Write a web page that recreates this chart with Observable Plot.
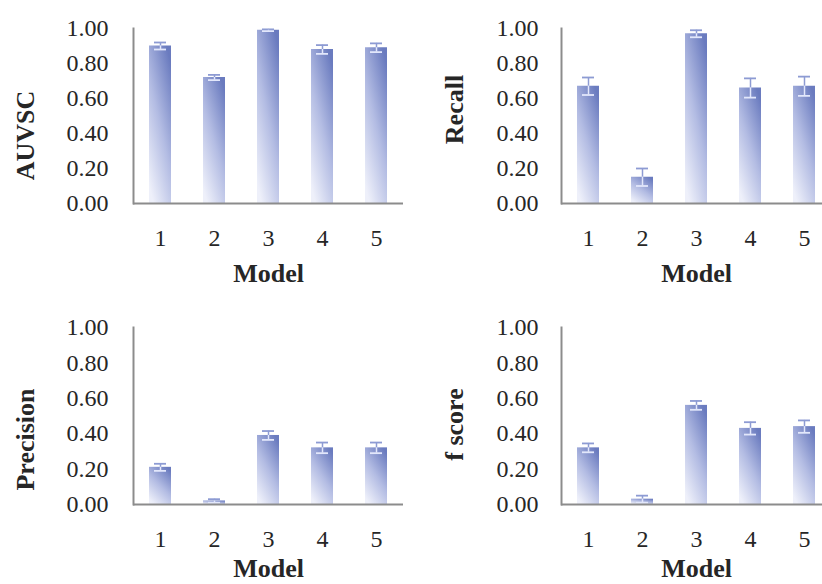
<!DOCTYPE html>
<html><head><meta charset="utf-8">
<script src="https://cdn.jsdelivr.net/npm/d3@7"></script>
<script src="https://cdn.jsdelivr.net/npm/@observablehq/plot@0.6"></script>
<style>
html,body{margin:0;padding:0;background:#fff;}
#wrap{position:relative;width:822px;height:584px;overflow:hidden;}
.panel{position:absolute;}
</style></head><body>
<svg width="0" height="0" style="position:absolute">
<defs><linearGradient id="barGrad" x1="0.2" y1="1" x2="0.8" y2="0">
<stop offset="0" stop-color="#eef0fa"/>
<stop offset="0.5" stop-color="#b3bce3"/>
<stop offset="1" stop-color="#6a7bbf"/>
</linearGradient></defs></svg>
<div id="wrap"></div>
<script>
const models = ["1", "2", "3", "4", "5"];
const yTicks = [0, 0.2, 0.4, 0.6, 0.8, 1.0];
const auvsc = [0.90, 0.72, 0.99, 0.88, 0.89];
const auvscErr = [0.02, 0.015, 0.005, 0.025, 0.025];
const recall = [0.67, 0.15, 0.97, 0.66, 0.67];
const recallErr = [0.05, 0.05, 0.02, 0.055, 0.055];
const precision = [0.21, 0.02, 0.39, 0.32, 0.32];
const precisionErr = [0.02, 0.01, 0.025, 0.03, 0.03];
const fscore = [0.32, 0.03, 0.56, 0.43, 0.44];
const fscoreErr = [0.025, 0.02, 0.025, 0.035, 0.035];
const xTitle = "Model";

const panels = [
  {label: "AUVSC", values: auvsc, errs: auvscErr, left: 0, top: 0, axisX: 133, top1: 28, base: 203, labelAt: [25, 135], modelY: 273},
  {label: "Recall", values: recall, errs: recallErr, left: 411, top: 0, axisX: 150, top1: 28, base: 203, labelAt: [43, 109], modelY: 273},
  {label: "Precision", values: precision, errs: precisionErr, left: 0, top: 292, axisX: 133, top1: 35, base: 212, labelAt: [25, 147], modelY: 276},
  {label: "f score", values: fscore, errs: fscoreErr, left: 411, top: 292, axisX: 150, top1: 35, base: 212, labelAt: [43, 132], modelY: 276}
];

const W = 411, H = 292, capInset = 5;
const wrap = document.getElementById("wrap");
for (const p of panels) {
  const data = models.map((m, i) => ({m, v: p.values[i], e: p.errs[i]}));
  const range = [p.axisX, p.axisX + 270];
  const midY = (p.top1 + p.base) / 2;
  const chart = Plot.plot({
    width: W, height: H,
    marginTop: p.top1, marginBottom: H - p.base,
    marginLeft: range[0], marginRight: W - range[1],
    x: {domain: models, range, paddingInner: 0.585, paddingOuter: 0.2925, axis: null, label: null},
    y: {domain: [0, 1], axis: null, label: null},
    style: {fontFamily: "'Liberation Serif', 'Times New Roman', serif", background: "transparent", color: "#262626"},
    marks: [
      Plot.barY(data, {x: "m", y: "v", fill: "url(#barGrad)"}),
      Plot.ruleX(data, {x: "m", y1: "v", y2: d => d.v + d.e, stroke: "#8d9bd3", strokeWidth: 1.5}),
      Plot.tickY(data, {x: "m", y: d => d.v + d.e, stroke: "#8d9bd3", strokeWidth: 1.8, insetLeft: capInset, insetRight: capInset}),
      Plot.ruleX(data, {x: "m", y1: d => Math.max(0, d.v - d.e), y2: "v", stroke: "#e2e7fb", strokeWidth: 1.5}),
      Plot.tickY(data, {x: "m", y: d => Math.max(0, d.v - d.e), stroke: "#e2e7fb", strokeWidth: 1.8, insetLeft: capInset, insetRight: capInset}),
      Plot.axisY({ticks: yTicks, tickFormat: d => d.toFixed(2), tickSize: 0, tickPadding: p.axisX === 133 ? 25 : 23, fontSize: 24, label: null}),
      Plot.axisX({tickSize: 0, tickPadding: 25, fontSize: 24, label: null}),
      Plot.ruleY([0], {stroke: "#8c8c8c", strokeWidth: 2}),
      Plot.frame({anchor: "left", stroke: "#8c8c8c", strokeWidth: 2}),
      Plot.text([p.label], {frameAnchor: "left", rotate: -90, textAnchor: "middle", lineAnchor: "middle",
        dx: p.labelAt[0] - p.axisX, dy: p.labelAt[1] - midY, fontSize: 26, fontWeight: "bold", fill: "#262626"}),
      Plot.text([xTitle], {frameAnchor: "bottom", textAnchor: "middle", lineAnchor: "middle",
        dy: p.modelY - p.base, fontSize: 26, fontWeight: "bold", fill: "#262626"})
    ]
  });
  chart.classList.add("panel");
  chart.style.left = p.left + "px";
  chart.style.top = p.top + "px";
  wrap.appendChild(chart);
}
</script>
</body></html>
